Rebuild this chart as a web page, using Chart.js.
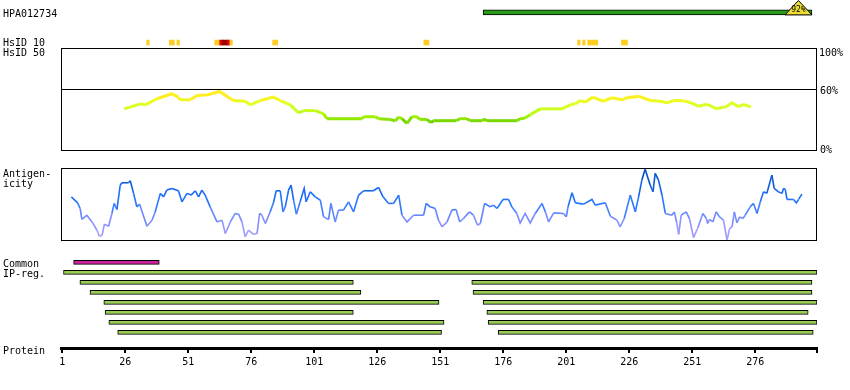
<!DOCTYPE html>
<html>
<head>
<meta charset="utf-8">
<script src="https://cdn.jsdelivr.net/npm/chart.js@4.4.1/dist/chart.umd.min.js"></script>
<style>
  html, body { margin: 0; padding: 0; background: #fff; }
  #wrap { position: relative; width: 850px; height: 390px; overflow: hidden; font: 10px "DejaVu Sans Mono", monospace; color: #000; }
  #wrap canvas { position: absolute; left: 0; }
  .lbl { position: absolute; line-height: 10px; white-space: pre; }
</style>
</head>
<body>
<div id="wrap">
  <canvas id="topChart" width="850" height="48" style="top:0px"></canvas>
  <canvas id="idChart" width="850" height="103" style="top:48px"></canvas>
  <canvas id="agChart" width="850" height="73" style="top:168px"></canvas>
  <canvas id="ipChart" width="850" height="135" style="top:255px"></canvas>

  <div class="lbl" style="left:3px;top:9px">HPA012734</div>
  <div class="lbl" style="left:3px;top:38px">HsID 10</div>
  <div class="lbl" style="left:3px;top:48px">HsID 50</div>
  <div class="lbl" style="left:819px;top:48px">100%</div>
  <div class="lbl" style="left:820px;top:86px">60%</div>
  <div class="lbl" style="left:820px;top:145px">0%</div>
  <div class="lbl" style="left:3px;top:169px">Antigen-</div>
  <div class="lbl" style="left:3px;top:179px">icity</div>
  <div class="lbl" style="left:3px;top:259px">Common</div>
  <div class="lbl" style="left:3px;top:269px">IP-reg.</div>
  <div class="lbl" style="left:3px;top:346px">Protein</div>
</div>
<script>
// --- data ---
const proteinLength = 300
const tickValues = [1, 26, 51, 76, 101, 126, 151, 176, 201, 226, 251, 276]

// PrEST region (green bar) and its identity tag
const prestRange = [168, 298.5]
const prestIdentity = 92

// HsID 10 marks: start / end (residues), level 1 = yellow, 2 = red, 3 = dark red
const hsidStart = [34.5, 43.5, 46.5, 61.5, 63.5, 64.5, 66.5, 67.5, 84.5, 144.5, 205.5, 207.5, 209.5, 222.9]
const hsidEnd = [35.5, 45.5, 47.5, 63.5, 64.5, 66.5, 67.5, 68.5, 86.5, 146.5, 206.5, 208.5, 213.5, 225.3]
const hsidLevel = [1, 1, 1, 1, 2, 3, 2, 1, 1, 1, 1, 1, 1, 1]

// HsID 50 identity curve (%)
const identityPos = [25.6, 32.0, 33.9, 38.6, 44.5, 47.0, 47.8, 51.8, 54.5, 58.9, 63.4, 68.9, 73.6, 75.6, 79.6, 84.8, 87.5, 91.5, 94.8, 96.8,
  101.4, 104.7, 106.0, 119.9, 120.8, 125.2, 126.5, 131.2, 133.1, 134.5, 135.8, 137.8, 139.8, 141.8, 142.8, 145.7, 147.3, 148.3, 157.3, 158.9,
  161.6, 162.9, 167.5, 168.6, 169.5, 181.4, 182.7, 184.7, 186.7, 190.7, 199.3, 202.6, 204.6, 206.6, 208.5, 211.6, 215.6, 219.1, 223.1, 225.1,
  229.7, 234.3, 238.3, 241.0, 243.6, 247.5, 250.2, 253.5, 256.8, 260.8, 262.8, 264.5, 266.7, 269.4, 271.4, 274.3]
const identityVal = [40.9, 45.8, 44.8, 50.7, 55.6, 52.3, 49.7, 49.7, 53.9, 54.6, 57.8, 49.0, 48.3, 44.8, 49.0, 52.3, 49.0, 44.8, 37.0, 39.2,
  39.2, 36.0, 31.4, 31.4, 33.3, 33.3, 31.4, 30.7, 29.1, 33.0, 31.4, 26.8, 33.3, 33.3, 30.7, 30.7, 27.5, 29.4, 29.4, 31.4,
  31.4, 29.4, 29.4, 30.7, 29.4, 29.4, 31.4, 32.1, 35.3, 40.9, 40.9, 44.8, 45.8, 49.0, 47.4, 52.3, 48.3, 51.7, 49.7, 51.7,
  53.2, 49.0, 48.3, 46.8, 49.0, 48.7, 47.1, 43.4, 45.4, 40.9, 42.5, 42.8, 46.8, 43.1, 45.1, 42.8]

// Antigenicity (0 = panel bottom, 100 = panel top)
const agPos = [4.6, 7.1, 8.1, 8.8, 10.8, 12.8, 14.8, 15.7, 16.8, 17.7, 19.4, 20.7, 21.6, 22.7, 24.0, 24.7, 27.3, 28.0, 29.3, 30.6,
  31.7, 34.6, 36.6, 37.9, 39.9, 41.2, 42.5, 44.5, 47.1, 48.5, 50.5, 52.1, 53.8, 55.1, 56.4, 57.7, 59.7, 62.4, 64.4, 65.7,
  67.7, 69.6, 71.0, 72.3, 73.6, 74.9, 76.9, 78.3, 79.3, 80.2, 81.6, 83.5, 84.8, 85.9, 87.5, 88.6, 89.5, 90.8, 91.8, 92.8,
  93.9, 95.4, 97.0, 97.8, 99.4, 101.4, 103.4, 104.7, 106.7, 107.6, 109.3, 110.6, 112.6, 114.6, 116.6, 118.6, 120.6, 124.5, 126.5, 128.3,
  130.5, 132.5, 134.5, 135.8, 137.8, 140.4, 143.1, 144.4, 145.4, 147.0, 149.0, 150.3, 151.7, 153.7, 155.6, 157.3, 158.7, 160.2, 162.6, 164.2,
  165.8, 166.9, 168.6, 170.8, 172.1, 173.5, 175.9, 178.1, 179.4, 181.4, 182.7, 184.7, 186.7, 188.7, 191.4, 192.7, 194.0, 196.0, 199.9, 201.0,
  201.7, 203.3, 204.6, 207.9, 211.2, 212.5, 216.5, 218.5, 221.1, 222.4, 224.0, 226.4, 228.4, 229.7, 231.0, 232.3, 234.3, 235.4, 236.3, 237.6,
  239.0, 240.3, 242.9, 243.9, 244.9, 245.6, 246.6, 248.6, 249.9, 251.5, 253.1, 255.2, 256.6, 257.1, 257.9, 259.2, 260.5, 261.8, 263.4, 264.8,
  265.8, 266.8, 267.7, 268.7, 269.8, 271.1, 272.0, 274.0, 275.3, 276.7, 278.0, 279.3, 280.6, 282.6, 283.5, 285.2, 286.6, 287.2, 287.9, 288.6,
  291.2, 292.3, 293.2, 294.5]
const agVal = [60.1, 51.8, 44.0, 28.8, 34.7, 25.4, 13.9, 5.6, 6.9, 22.2, 19.4, 37.1, 51.0, 42.6, 76.4, 79.6, 79.6, 82.4, 64.9, 46.3,
  50.0, 19.4, 27.8, 39.3, 64.9, 60.1, 69.4, 71.8, 68.5, 53.2, 64.9, 62.5, 68.5, 60.1, 69.4, 62.5, 46.3, 25.4, 27.8, 9.3,
  25.4, 37.1, 36.1, 25.4, 4.6, 13.9, 8.3, 9.3, 37.1, 34.7, 23.2, 39.3, 51.8, 68.5, 68.5, 39.3, 46.3, 69.4, 76.4, 55.6,
  36.1, 53.2, 71.8, 53.2, 67.1, 60.1, 55.6, 32.4, 28.8, 51.0, 25.4, 41.7, 41.7, 53.2, 39.3, 62.5, 68.5, 68.5, 73.2, 60.1,
  51.0, 51.0, 62.5, 34.7, 25.4, 34.7, 34.7, 34.7, 51.0, 46.3, 44.0, 27.8, 18.5, 25.4, 41.7, 42.6, 25.4, 30.1, 39.3, 34.7,
  20.8, 23.2, 51.0, 46.3, 48.6, 44.0, 56.5, 56.5, 46.3, 37.1, 24.0, 37.1, 24.0, 37.1, 51.0, 39.3, 25.4, 37.9, 37.1, 32.4,
  46.3, 65.7, 51.8, 50.0, 56.5, 48.6, 51.8, 33.3, 27.8, 18.5, 30.1, 62.5, 39.3, 60.1, 83.3, 98.2, 76.4, 67.1, 92.6, 83.3,
  62.5, 37.1, 34.7, 39.3, 23.2, 8.3, 34.7, 39.3, 30.1, 3.7, 16.2, 37.1, 30.1, 23.2, 28.8, 25.4, 39.3, 32.4, 27.8, 0,
  16.2, 18.5, 39.3, 24.0, 32.4, 30.1, 34.7, 46.3, 51.0, 37.1, 53.2, 67.1, 64.9, 90.3, 71.8, 67.1, 64.9, 71.8, 70.4, 56.5,
  56.5, 51.8, 56.5, 63.9]

// Common region and IP-reg segments (row 1..7)
const commonRegion = [5.5, 39.5]
const ipRow = [1, 2, 2, 3, 3, 4, 4, 5, 5, 6, 6, 7, 7]
const ipStart = [1.5, 8, 163.5, 12, 164, 17.5, 168, 18, 169.5, 19.5, 170, 23, 174]
const ipEnd = [300.5, 116.5, 298.5, 119.5, 298.5, 150.5, 300.5, 116.5, 297, 152.5, 300.5, 151.5, 299]

// --- helpers ---
function mix(stops, v) {
  if (v <= stops[0][0]) return `rgb(${stops[0][1].join(',')})`
  for (let i = 1; i < stops.length; i++) {
    if (v <= stops[i][0]) {
      const [a, ca] = stops[i - 1]
      const [b, cb] = stops[i]
      const t = (v - a) / (b - a)
      const c = ca.map((x, k) => Math.round(x + (cb[k] - x) * t))
      return `rgb(${c.join(',')})`
    }
  }
  return `rgb(${stops[stops.length - 1][1].join(',')})`
}
const idStops = [[28, [102, 204, 0]], [32, [153, 238, 0]], [40, [204, 255, 34]], [47, [230, 255, 34]], [53, [255, 238, 34]]]
const agStops = [[0, [180, 165, 255]], [30, [125, 140, 255]], [50, [40, 120, 255]], [70, [20, 100, 240]], [100, [0, 70, 180]]]
const hsidColors = { 1: '#ffcc22', 2: '#dd0000', 3: '#990000' }

const xRange = { type: 'linear', min: 0.5, max: proteinLength + 0.5, display: false }
const pad = { left: 61, right: 33, top: 0, bottom: 0 }
const base = {
  responsive: false,
  animation: false,
  devicePixelRatio: 1,
  layout: { padding: pad },
  plugins: { legend: { display: false }, tooltip: { enabled: false } }
}

const boxPlugin = {
  id: 'box',
  afterDatasetsDraw(chart, args, opts) {
    const { ctx, chartArea: a, scales: { y } } = chart
    ctx.save()
    ctx.strokeStyle = '#000'
    ctx.lineWidth = 1
    ctx.strokeRect(a.left + 0.5, a.top + 0.5, a.right - a.left - 1, a.bottom - a.top - 1)
    if (opts.line != null) {
      const py = Math.round(y.getPixelForValue(opts.line)) + 0.5
      ctx.beginPath()
      ctx.moveTo(a.left, py)
      ctx.lineTo(a.right, py)
      ctx.stroke()
    }
    ctx.restore()
  }
}

const prestTag = {
  id: 'prestTag',
  afterDatasetsDraw(chart) {
    const { ctx, chartArea, scales: { x, y } } = chart
    const right = x.getPixelForValue(prestRange[1])
    const bottom = y.getPixelForValue(0) + 2.5
    const top = chartArea.top + 0.5
    const w = 27
    ctx.save()
    ctx.beginPath()
    ctx.moveTo(right - w, bottom)
    ctx.lineTo(right - w / 2, top)
    ctx.lineTo(right, bottom)
    ctx.closePath()
    ctx.fillStyle = '#eedd33'
    ctx.fill()
    ctx.strokeStyle = '#000'
    ctx.lineWidth = 1
    ctx.stroke()
    ctx.fillStyle = '#000'
    ctx.font = '8px "DejaVu Sans Mono"'
    ctx.textAlign = 'center'
    ctx.textBaseline = 'middle'
    ctx.fillText(prestIdentity + '%', right - w / 2, bottom - 5)
    ctx.restore()
  }
}

// top strip: PrEST bar + HsID 10 marks
new Chart(document.getElementById('topChart'), {
  type: 'bar',
  data: {
    datasets: [
      {
        data: [{ x: prestRange, y: 0 }],
        backgroundColor: '#2a9a1a',
        borderColor: '#000',
        borderWidth: 1,
        borderSkipped: false,
        barThickness: 5,
        grouped: false
      },
      {
        data: hsidStart.map((s, i) => ({ x: [s, hsidEnd[i]], y: 1 })),
        backgroundColor: hsidLevel.map(l => hsidColors[l]),
        borderWidth: 0,
        barThickness: 5,
        grouped: false
      }
    ]
  },
  options: {
    ...base,
    indexAxis: 'y',
    scales: {
      x: xRange,
      y: { type: 'linear', offset: false, min: -0.41, max: 1.18, reverse: true, display: false }
    }
  },
  plugins: [prestTag]
})

// HsID 50 identity panel
new Chart(document.getElementById('idChart'), {
  type: 'line',
  data: {
    datasets: [{
      data: identityPos.map((p, i) => ({ x: p, y: identityVal[i] })),
      borderWidth: 3,
      pointRadius: 0,
      borderColor: '#ccff22',
      segment: { borderColor: c => mix(idStops, (c.p0.parsed.y + c.p1.parsed.y) / 2) }
    }]
  },
  options: {
    ...base,
    scales: { x: xRange, y: { type: 'linear', min: 0, max: 100, display: false } },
    plugins: { ...base.plugins, box: { line: 60 } }
  },
  plugins: [boxPlugin]
})

// Antigenicity panel
new Chart(document.getElementById('agChart'), {
  type: 'line',
  data: {
    datasets: [{
      data: agPos.map((p, i) => ({ x: p, y: agVal[i] })),
      borderWidth: 1.6,
      pointRadius: 0,
      borderColor: '#2277ff',
      segment: { borderColor: c => mix(agStops, (c.p0.parsed.y + c.p1.parsed.y) / 2) }
    }]
  },
  options: {
    ...base,
    scales: { x: xRange, y: { type: 'linear', min: -1, max: 100, display: false } },
    plugins: { ...base.plugins, box: { line: null } }
  },
  plugins: [boxPlugin]
})

// Common / IP-reg bars with the protein axis
new Chart(document.getElementById('ipChart'), {
  type: 'bar',
  data: {
    datasets: [
      {
        data: [{ x: commonRegion, y: 0 }],
        backgroundColor: '#cc2299',
        borderColor: '#000',
        borderWidth: 1,
        borderSkipped: false,
        barThickness: 4,
        grouped: false
      },
      {
        data: ipStart.map((s, i) => ({ x: [s, ipEnd[i]], y: ipRow[i] })),
        backgroundColor: '#99cc55',
        borderColor: '#000',
        borderWidth: 1,
        borderSkipped: false,
        barThickness: 4,
        grouped: false
      }
    ]
  },
  options: {
    ...base,
    indexAxis: 'y',
    scales: {
      x: {
        type: 'linear',
        min: 0.5,
        max: proteinLength + 0.5,
        afterBuildTicks: s => { s.ticks = [...tickValues, proteinLength + 0.5].map(v => ({ value: v })) },
        afterFit: s => { s.height = 42 },
        ticks: {
          autoSkip: false,
          maxRotation: 0,
          padding: 3,
          color: '#000',
          font: { family: 'DejaVu Sans Mono', size: 10 },
          callback: v => (v > proteinLength ? '' : v)
        },
        grid: { drawOnChartArea: false, color: '#000', lineWidth: 2, tickLength: 5 },
        border: { display: true, color: '#000', width: 3 }
      },
      y: { type: 'linear', offset: false, min: -0.73, max: 8.57, reverse: true, display: false }
    }
  }
})
</script>
</body>
</html>
